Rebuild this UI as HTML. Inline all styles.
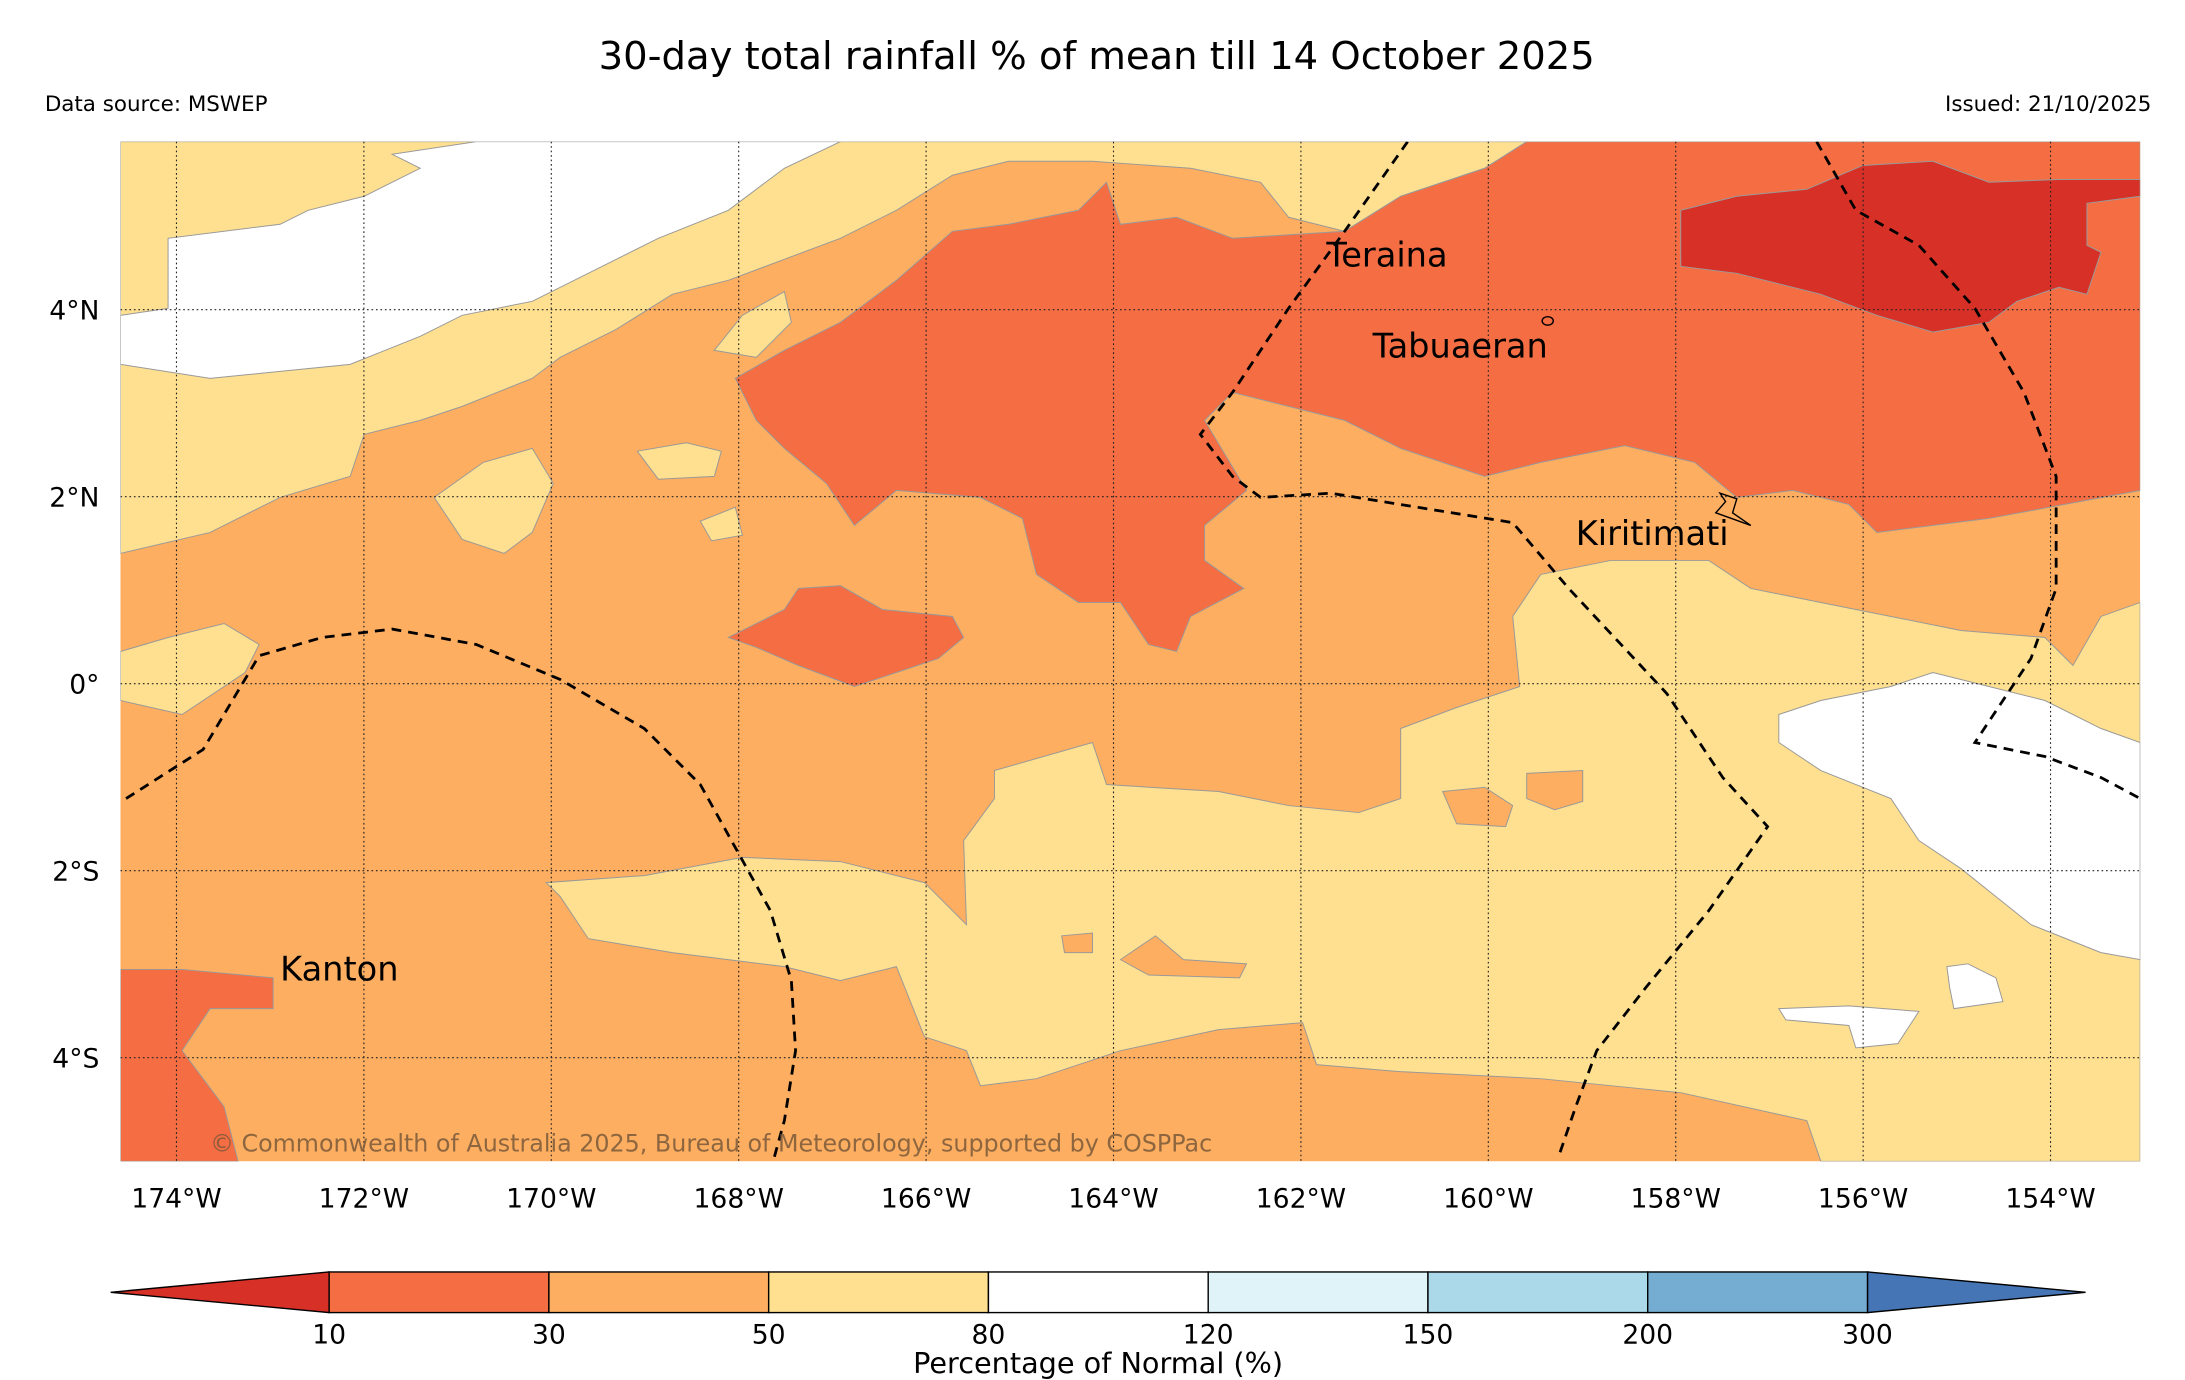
<!DOCTYPE html>
<html><head><meta charset="utf-8"><style>
html,body{margin:0;padding:0;background:#fff}
svg{display:block}
text{font-family:"DejaVu Sans","Liberation Sans",sans-serif}
</style></head><body>
<svg id="chart" width="2185" height="1380" viewBox="0 0 1560 985" xmlns="http://www.w3.org/2000/svg">
<text x="783" y="49" font-size="27.5" text-anchor="middle">30-day total rainfall % of mean till 14 October 2025</text>
<text x="32" y="79" font-size="15.3">Data source: MSWEP</text>
<text x="1536" y="79" font-size="15.3" text-anchor="end">Issued: 21/10/2025</text>
<defs><clipPath id="mapclip"><rect x="86" y="101" width="1442" height="728"/></clipPath></defs>
<g id="map" clip-path="url(#mapclip)" stroke="#999" stroke-width="0.7">
<rect x="86" y="101" width="1442" height="728" fill="#fdae61" stroke="none"/>
<polygon fill="#fee090" points="86,101 1090,101 1060,120 1000,140 960,165 920,155 900,130 850,120 780,115 720,115 680,125 640,150 600,170 560,185 520,200 480,210 440,235 400,255 380,270 330,290 300,300 260,310 250,340 200,355 150,380 86,395"/>
<polygon fill="#fff" points="86,225 120,220 120,170 200,160 220,150 260,140 300,120 280,110 340,101 600,101 560,120 520,150 470,170 430,190 380,215 330,225 300,240 250,260 200,265 150,270 86,260"/>
<polygon fill="#f46d43" points="1090,101 1528,101 1528,350 1420,370 1340,380 1320,360 1280,350 1240,355 1210,330 1160,318 1100,330 1060,340 1000,320 960,300 920,290 880,280 860,300 890,350 860,375 860,400 888,420 850,440 840,465 820,460 800,430 770,430 740,410 730,370 700,355 640,350 610,375 590,345 560,320 540,300 525,270 560,250 600,230 640,200 680,165 720,160 770,150 790,130 800,160 840,155 880,170 960,165 1000,140 1060,120"/>
<polygon fill="#d73027" points="1200,150 1240,140 1290,135 1330,118 1380,115 1420,130 1470,128 1528,128 1528,140 1490,145 1490,175 1500,180 1490,210 1470,205 1440,215 1420,230 1380,237 1340,225 1300,210 1240,195 1200,190"/>
<polygon fill="#f46d43" points="520,455 560,435 570,420 600,418 630,435 680,440 688,455 670,470 640,480 610,490 570,475 540,462"/>
<polygon fill="#f46d43" points="86,692 130,692 195,698 195,720 150,720 130,750 160,790 170,829 86,829"/>
<polygon fill="#fee090" points="1100,410 1150,400 1220,400 1250,420 1300,430 1400,450 1460,455 1480,475 1500,440 1528,430 1528,829 1300,829 1290,800 1200,780 1100,770 1000,765 940,760 930,730 870,735 800,750 740,770 700,775 690,750 660,740 640,690 600,700 560,690 480,680 420,670 400,640 390,630 460,625 530,612 600,615 660,630 690,660 688,600 710,570 710,550 780,530 790,560 870,565 920,575 970,580 1000,570 1000,520 1040,505 1085,490 1080,440"/>
<polygon fill="#fdae61" points="1030,565 1060,562 1080,575 1075,590 1040,588"/>
<polygon fill="#fdae61" points="1090,552 1130,550 1130,572 1110,578 1090,570"/>
<polygon fill="#fdae61" points="800,685 825,668 845,685 890,688 885,698 820,696"/>
<polygon fill="#fdae61" points="758,668 780,666 780,680 760,680"/>
<polygon fill="#fff" points="1270,510 1300,500 1350,490 1380,480 1420,490 1460,500 1500,520 1528,530 1528,685 1500,680 1450,660 1400,620 1370,600 1350,570 1300,550 1270,530"/>
<polygon fill="#fff" points="1270,720 1320,718 1370,722 1355,745 1325,748 1320,732 1275,728"/>
<polygon fill="#fff" points="1390,690 1405,688 1425,698 1430,715 1395,720 1392,705"/>
<polygon fill="#fee090" points="86,465 120,455 160,445 185,460 175,480 130,510 86,500"/>
<polygon fill="#fee090" points="310,355 345,330 380,320 395,345 380,380 360,395 330,385"/>
<polygon fill="#fee090" points="455,322 490,316 515,322 510,340 470,342"/>
<polygon fill="#fee090" points="500,372 525,362 530,382 508,386"/>
<polygon fill="#fee090" points="510,250 530,225 560,208 565,230 540,255"/>
<g id="grid" stroke="#222" stroke-width="0.8" stroke-dasharray="1.2,2"></g>
<g fill="none" stroke="#000" stroke-width="2" stroke-dasharray="7,5">
<polyline points="90,570 145,535 185,468 230,455 280,449 340,460 400,485 460,520 500,560 525,605 550,650 565,700 568,750 560,800 552,829"/>
<polyline points="1005,101 960,165 920,220 880,280 857,310 880,340 900,355 950,352 1080,373 1120,420 1190,495 1230,555 1262,590 1220,650 1175,705 1140,750 1125,790 1113,825"/>
<polyline points="1297,101 1325,150 1370,175 1410,220 1445,280 1468,340 1468,420 1450,470 1430,500 1410,530 1460,540 1500,555 1528,570"/>
</g>
<polygon fill="none" stroke="#000" stroke-width="1" points="1228,352 1240,356 1237,366 1250,375 1225,366 1232,358"/>
<ellipse cx="1105" cy="229" rx="4" ry="3" fill="none" stroke="#000" stroke-width="1"/>
</g>
<g font-size="24">
<text x="947" y="190">Teraina</text>
<text x="980" y="255">Tabuaeran</text>
<text x="1125" y="389">Kiritimati</text>
<text x="200" y="700">Kanton</text>
</g>
<text x="150" y="822" font-size="17" fill="#7a5a3a" opacity="0.85">© Commonwealth of Australia 2025, Bureau of Meteorology, supported by COSPPac</text>
<g id="axes" font-size="19"></g>
<g id="cbar"></g>
<text x="784" y="980" font-size="20.5" text-anchor="middle">Percentage of Normal (%)</text>
</svg>
<script>
const lonTicks = [-174,-172,-170,-168,-166,-164,-162,-160,-158,-156,-154];
const latTicks = [4,2,0,-2,-4];
const cbarLevels = ["10","30","50","80","120","150","200","300"];
const cbarColors = ["#f46d43","#fdae61","#fee090","#ffffff","#e0f3f8","#abd9e9","#74add1"];
const cbarLow = "#d73027";
const cbarHigh = "#4575b4";
const NS="http://www.w3.org/2000/svg";
const xLon = l => 126 + (l + 174) * 66.9;
const yLat = l => 488 - l * 66.75;
function mk(tag, attrs){const e=document.createElementNS(NS,tag);for(const k in attrs)e.setAttribute(k,attrs[k]);return e;}
const grid=document.getElementById('grid'), axes=document.getElementById('axes');
lonTicks.forEach(l=>{
  const ln=mk('line',{x1:xLon(l),x2:xLon(l),y1:101,y2:829});
  
  
  grid.appendChild(ln);
  const t=mk('text',{x:xLon(l),y:862,'text-anchor':'middle'});
  
  
  t.textContent=Math.abs(l)+'°W';axes.appendChild(t);
});
latTicks.forEach(l=>{
  const ln=mk('line',{x1:86,x2:1528,y1:yLat(l),y2:yLat(l)});
  
  
  grid.appendChild(ln);
  const t=mk('text',{x:71,y:yLat(l)+7,'text-anchor':'end'});
  
  
  t.textContent=l===0?'0°':Math.abs(l)+'°'+(l>0?'N':'S');axes.appendChild(t);
});
const cb=document.getElementById('cbar');
const cx0=235, cw=156.9, cy0=908, ch=29;
const xe=cx0+cw*cbarColors.length;
const lo=mk('polygon',{points:`${cx0},${cy0} 79,${cy0+ch/2} ${cx0},${cy0+ch}`,fill:cbarLow,stroke:'#000','stroke-width':1});


cb.appendChild(lo);
const hi=mk('polygon',{points:`${xe},${cy0} 1489,${cy0+ch/2} ${xe},${cy0+ch}`,fill:cbarHigh,stroke:'#000','stroke-width':1});


cb.appendChild(hi);
cbarColors.forEach((c,i)=>{
  const r=mk('rect',{x:cx0+i*cw,y:cy0,width:cw,height:ch,fill:c,stroke:'#000','stroke-width':1});
  
  
  cb.appendChild(r);
});
cbarLevels.forEach((v,i)=>{
  const t=mk('text',{x:cx0+i*cw,y:959,'text-anchor':'middle','font-size':19});
  
  
  t.textContent=v;cb.appendChild(t);
});
</script>
</body></html>
